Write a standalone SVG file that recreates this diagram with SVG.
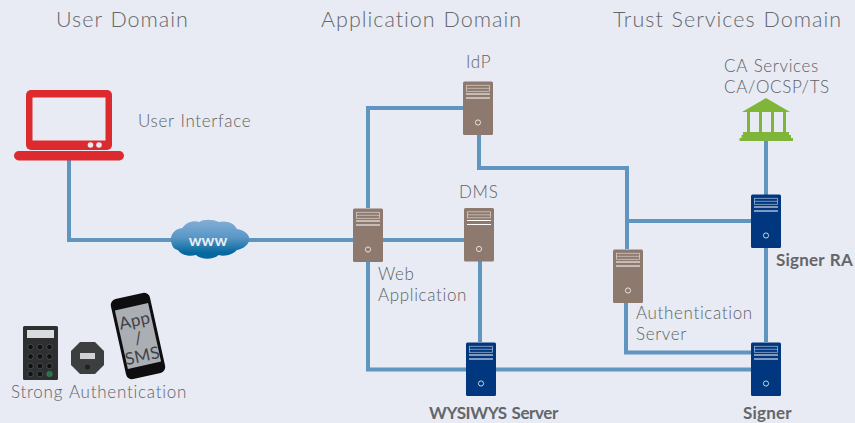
<svg xmlns="http://www.w3.org/2000/svg" xmlns:xlink="http://www.w3.org/1999/xlink" width="855" height="423" viewBox="0 0 855 423">
<style>
text{font-family:"Lato","Open Sans",sans-serif;font-weight:300;fill:#5f6266;font-size:17px;letter-spacing:.65px;word-spacing:1px}
.h{font-size:21.500px;letter-spacing:1px;word-spacing:1px;fill:#63676b}
.b{font-weight:700;font-size:17px;fill:#63666a;letter-spacing:.2px}
.c{fill:none;stroke:#6095bf;stroke-width:4}
.p{font-weight:400;fill:#3f4246;letter-spacing:.3px}
</style>
<defs>
<linearGradient id="cl" x1="0" y1="0" x2="0" y2="1"><stop offset="0" stop-color="#84aed6"/><stop offset=".45" stop-color="#5a97c6"/><stop offset=".85" stop-color="#05689f"/></linearGradient>
<g id="srv-lines">
<rect x="3.500" y="3.800" width="23" height="6" fill="none" stroke="#fff" stroke-opacity=".6" stroke-width=".8"/>
<path d="M3.500 6.800h23" stroke="#fff" stroke-opacity=".6" stroke-width=".8"/>
<path d="M3 12.500h24M3 16.500h24" stroke="#fff" stroke-width="1"/>
<circle cx="15" cy="41" r="2.600" fill="none" stroke="#fff" stroke-opacity=".85" stroke-width=".9"/>
</g>
<g id="brown"><rect width="30" height="53.500" rx="1.500" fill="#8d796e"/><use xlink:href="#srv-lines" href="#srv-lines"/></g>
<g id="blue"><rect width="30" height="53.500" rx="1.500" fill="#00377f"/><use xlink:href="#srv-lines" href="#srv-lines"/></g>
</defs>
<rect width="855" height="423" fill="#e8ebf3"/>
<g id="titles">
<text class="h" x="56" y="27">User Domain</text>
<text class="h" x="321" y="27">Application Domain</text>
<text class="h" x="613" y="27">Trust Services Domain</text>
</g>
<g id="connectors">
<path class="c" d="M69 160V240H353"/>
<path class="c" d="M383 240H464"/>
<path class="c" d="M368 208V108H463"/>
<path class="c" d="M479 135V168H627V249"/>
<path class="c" d="M627 221H751"/>
<path class="c" d="M766 140V195"/>
<path class="c" d="M766 248V342"/>
<path class="c" d="M480 261V342"/>
<path class="c" d="M368 262V369.500H466"/>
<path class="c" d="M496 369.500H751"/>
<path class="c" d="M626 303V352.500H751"/>
</g>
<g id="user-interface">
<rect x="26" y="90" width="86" height="60" rx="5" fill="#dc2a2e"/>
<rect x="32.500" y="97.500" width="73" height="43" fill="#e8ebf3"/>
<circle cx="90.500" cy="145" r="2.800" fill="#e8ebf3"/><circle cx="99" cy="145" r="2.800" fill="#e8ebf3"/>
<rect x="14" y="151" width="110" height="9.500" rx="4.700" fill="#dc2a2e"/>
<text x="138" y="127">User Interface</text>
</g>
<g id="www">
<path d="M172 240c0-6 4-10 10-11 3-5 9-8 15-6 3-3 12-3 17 0 7-2 14 1 16 7 6 1 11 5 11 10s-5 10-11 11c-3 4-10 7-16 5-5 5-15 5-20 0-6 2-13 0-16-5-4-1-6-5-6-11z" fill="url(#cl)" transform="translate(171 219.500) scale(1.135 1) translate(-172 -220.500)"/>
<text x="208" y="246" text-anchor="middle" style="font-size:16px;font-weight:700;fill:#e6eef6;letter-spacing:0">www</text>
</g>
<g id="idp"><use xlink:href="#brown" href="#brown" x="463" y="81.500"/><text x="466" y="68">IdP</text></g>
<g id="dms"><use xlink:href="#brown" href="#brown" x="464" y="208"/><text x="459" y="198">DMS</text></g>
<g id="web-application"><use xlink:href="#brown" href="#brown" x="353" y="208.500"/><text x="378" y="280">Web</text><text x="378" y="301">Application</text></g>
<g id="authentication-server"><use xlink:href="#brown" href="#brown" x="613" y="249.500"/><text x="636" y="319">Authentication</text><text x="636" y="340">Server</text></g>
<g id="signer-ra"><use xlink:href="#blue" href="#blue" x="751" y="194.500"/><text class="b" x="776" y="266">Signer RA</text></g>
<g id="signer"><use xlink:href="#blue" href="#blue" x="751" y="342.500"/><text class="b" x="743" y="419">Signer</text></g>
<g id="wysiwys-server"><use xlink:href="#blue" href="#blue" x="466" y="342.500"/><text class="b" x="429" y="419" style="letter-spacing:-.4px">WYSIWYS Server</text></g>
<g id="ca-services">
<path d="M766 98L790 112H742Z" fill="#7fb539"/>
<path d="M747 112h3v21h-3zM759 112h3v21h-3zM771 112h3v21h-3zM783 112h3v21h-3z" fill="#7fb539"/>
<path d="M743 132h46v3h2v3h2v3H739.500v-3h2v-3h1.500z" fill="#7fb539"/>
<text x="724" y="72">CA Services</text>
<text x="724" y="93">CA/OCSP/TS</text>
</g>
<g id="strong-authentication">
<rect x="23" y="326" width="35" height="54" rx="1.500" fill="#2d2f31"/>
<rect x="27" y="330" width="27" height="8" fill="#d8dcdf"/>
<g fill="#0f1113" stroke="#6b6f70" stroke-width=".5"><circle cx="30.500" cy="347" r="2.800"/><circle cx="40" cy="347" r="2.800"/><circle cx="49.500" cy="347" r="2.800"/><circle cx="30.500" cy="356.500" r="2.800"/><circle cx="40" cy="356.500" r="2.800"/><circle cx="49.500" cy="356.500" r="2.800"/><circle cx="30.500" cy="366" r="2.800"/><circle cx="40" cy="366" r="2.800"/><circle cx="30.500" cy="374" r="2.800"/><circle cx="40" cy="374" r="2.800"/><circle cx="49.500" cy="366" r="2.800"/><circle cx="49.500" cy="374" r="2.800" fill="#1d7a45"/></g>
<path d="M80 342h15l9 9v14l-9 9H80l-9-9v-14z" fill="#3d3e40"/>
<rect x="80" y="353" width="15" height="6" fill="#d0d3d6"/>
<circle cx="87.500" cy="367" r="2.500" fill="#222"/>
<g transform="rotate(-12.500 138 336)">
<rect x="118" y="295" width="40" height="82" rx="6" fill="#0e0e10"/>
<rect x="121" y="306" width="34" height="60" fill="#abaeb3"/>
<text class="p" x="138" y="326" text-anchor="middle">App</text>
<text class="p" x="138" y="344" text-anchor="middle">/</text>
<text class="p" x="138" y="362" text-anchor="middle">SMS</text>
</g>
<text x="11" y="398" style="letter-spacing:.75px">Strong Authentication</text>
</g>
</svg>
